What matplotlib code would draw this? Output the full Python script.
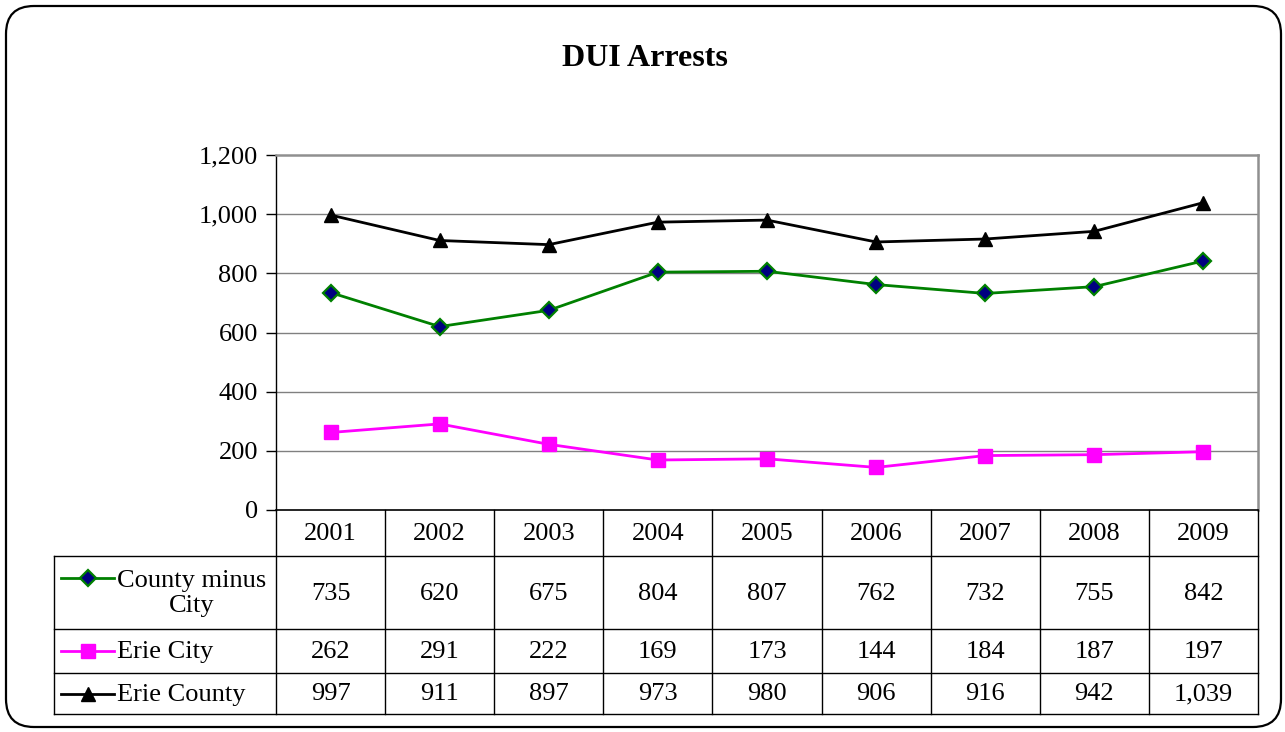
import matplotlib
matplotlib.use('Agg')
import matplotlib.pyplot as plt
from matplotlib.patches import FancyBboxPatch
from matplotlib.ticker import FuncFormatter

plt.rcParams['font.family'] = ['Liberation Serif', 'DejaVu Serif']

# Datos
years = ['2001', '2002', '2003', '2004', '2005', '2006', '2007', '2008', '2009']
county_minus_city = [735, 620, 675, 804, 807, 762, 732, 755, 842]
erie_city = [262, 291, 222, 169, 173, 144, 184, 187, 197]
erie_county = [997, 911, 897, 973, 980, 906, 916, 942, 1039]
series_names = ['County minus\nCity', 'Erie City', 'Erie County']
y_ticks = [0, 200, 400, 600, 800, 1000, 1200]

W, H = 1285, 732
FS = 19

def fx(px):
    return px / W

def fy(py):
    return 1 - py / H

fig = plt.figure(figsize=(W / 100, H / 100), dpi=100)

# Fondo con borde redondeado
bg = fig.add_axes([0, 0, 1, 1])
bg.set_xlim(0, W)
bg.set_ylim(H, 0)
bg.axis('off')
bg.add_patch(FancyBboxPatch((6, 6), 1275, 721, boxstyle='round,pad=0,rounding_size=28',
                            fc='white', ec='black', lw=1.6))
bg.text(W / 2 + 2, 58, 'DUI Arrests', ha='center', va='center', fontsize=23, fontweight='bold')

# Grafico principal
plot_l, plot_r, plot_t, plot_b = 276, 1258, 155, 510
ax = fig.add_axes([fx(plot_l), fy(plot_b), (plot_r - plot_l) / W, (plot_b - plot_t) / H])
ax.set_facecolor('none')
x = list(range(len(years)))

styles = [
    dict(color='#008000', marker='D', markersize=8.5, markerfacecolor='#000080',
         markeredgecolor='#008000', markeredgewidth=1.6),
    dict(color='#FF00FF', marker='s', markersize=10.5, markerfacecolor='#FF00FF',
         markeredgecolor='#FF00FF'),
    dict(color='black', marker='^', markersize=10.5, markerfacecolor='black',
         markeredgecolor='black'),
]
all_series = [county_minus_city, erie_city, erie_county]

for vals, st in zip(all_series, styles):
    ax.plot(x, vals, lw=2.0, zorder=3, **st)

ax.set_xlim(-0.5, len(years) - 0.5)
ax.set_ylim(0, 1200)
ax.set_yticks(y_ticks)
ax.yaxis.set_major_formatter(FuncFormatter(lambda v, p: f'{int(v):,}'))
ax.tick_params(axis='y', direction='out', length=7, width=1, labelsize=FS, pad=6)
ax.set_xticks([])
for yv in y_ticks[1:-1]:
    ax.axhline(yv, color='#808080', lw=1, zorder=1)
ax.spines['top'].set_color('#909090')
ax.spines['top'].set_linewidth(1.8)
ax.spines['right'].set_color('#909090')
ax.spines['right'].set_linewidth(1.8)
ax.spines['left'].set_color('black')
ax.spines['left'].set_linewidth(1)
ax.spines['bottom'].set_color('black')
ax.spines['bottom'].set_linewidth(1.2)

# Tabla de datos
tab_l, tab_b = 54, 714
col_w = (plot_r - plot_l) / len(years)
x0 = -0.5 - (plot_l - tab_l) / col_w
x1 = len(years) - 0.5
tab = fig.add_axes([fx(tab_l), fy(tab_b), (plot_r - tab_l) / W, (tab_b - plot_b) / H])
tab.set_xlim(x0, x1)
tab.set_ylim(tab_b, plot_b)
tab.axis('off')

row_edges = [510, 556, 629, 673, 714]
lw_t = 1.0
# lineas horizontales
for ye in row_edges[1:]:
    tab.plot([x0, x1], [ye, ye], color='black', lw=lw_t, clip_on=False)
# lineas verticales
tab.plot([x0, x0], [row_edges[1], row_edges[-1]], color='black', lw=lw_t, clip_on=False)
for i in range(len(years) + 1):
    xe = -0.5 + i
    tab.plot([xe, xe], [row_edges[0], row_edges[-1]], color='black', lw=lw_t, clip_on=False)

# encabezado
for i, yr in enumerate(years):
    tab.text(i, (row_edges[0] + row_edges[1]) / 2 + 1, yr, ha='center', va='center', fontsize=FS)

# filas
for r, (name, vals, st) in enumerate(zip(series_names, all_series, styles)):
    yc = (row_edges[r + 1] + row_edges[r + 2]) / 2
    for i, v in enumerate(vals):
        tab.text(i, yc + 1, f'{v:,}', ha='center', va='center', fontsize=FS)
    lx0 = x0 + (61 - tab_l) / col_w
    lx1 = x0 + (114 - tab_l) / col_w
    ly = yc - 15 if r == 0 else yc
    tab.plot([lx0, lx1], [ly, ly], lw=2.0, color=st['color'], clip_on=False)
    tab.plot([(lx0 + lx1) / 2], [ly], clip_on=False, linestyle='none',
             **{k: v for k, v in st.items() if k != 'color'})
    tab.text(x0 + (117 - tab_l) / col_w, yc + 1, name, ha='left', va='center',
             fontsize=FS, multialignment='center', linespacing=1.22)

fig.savefig('out.png', dpi=100)
